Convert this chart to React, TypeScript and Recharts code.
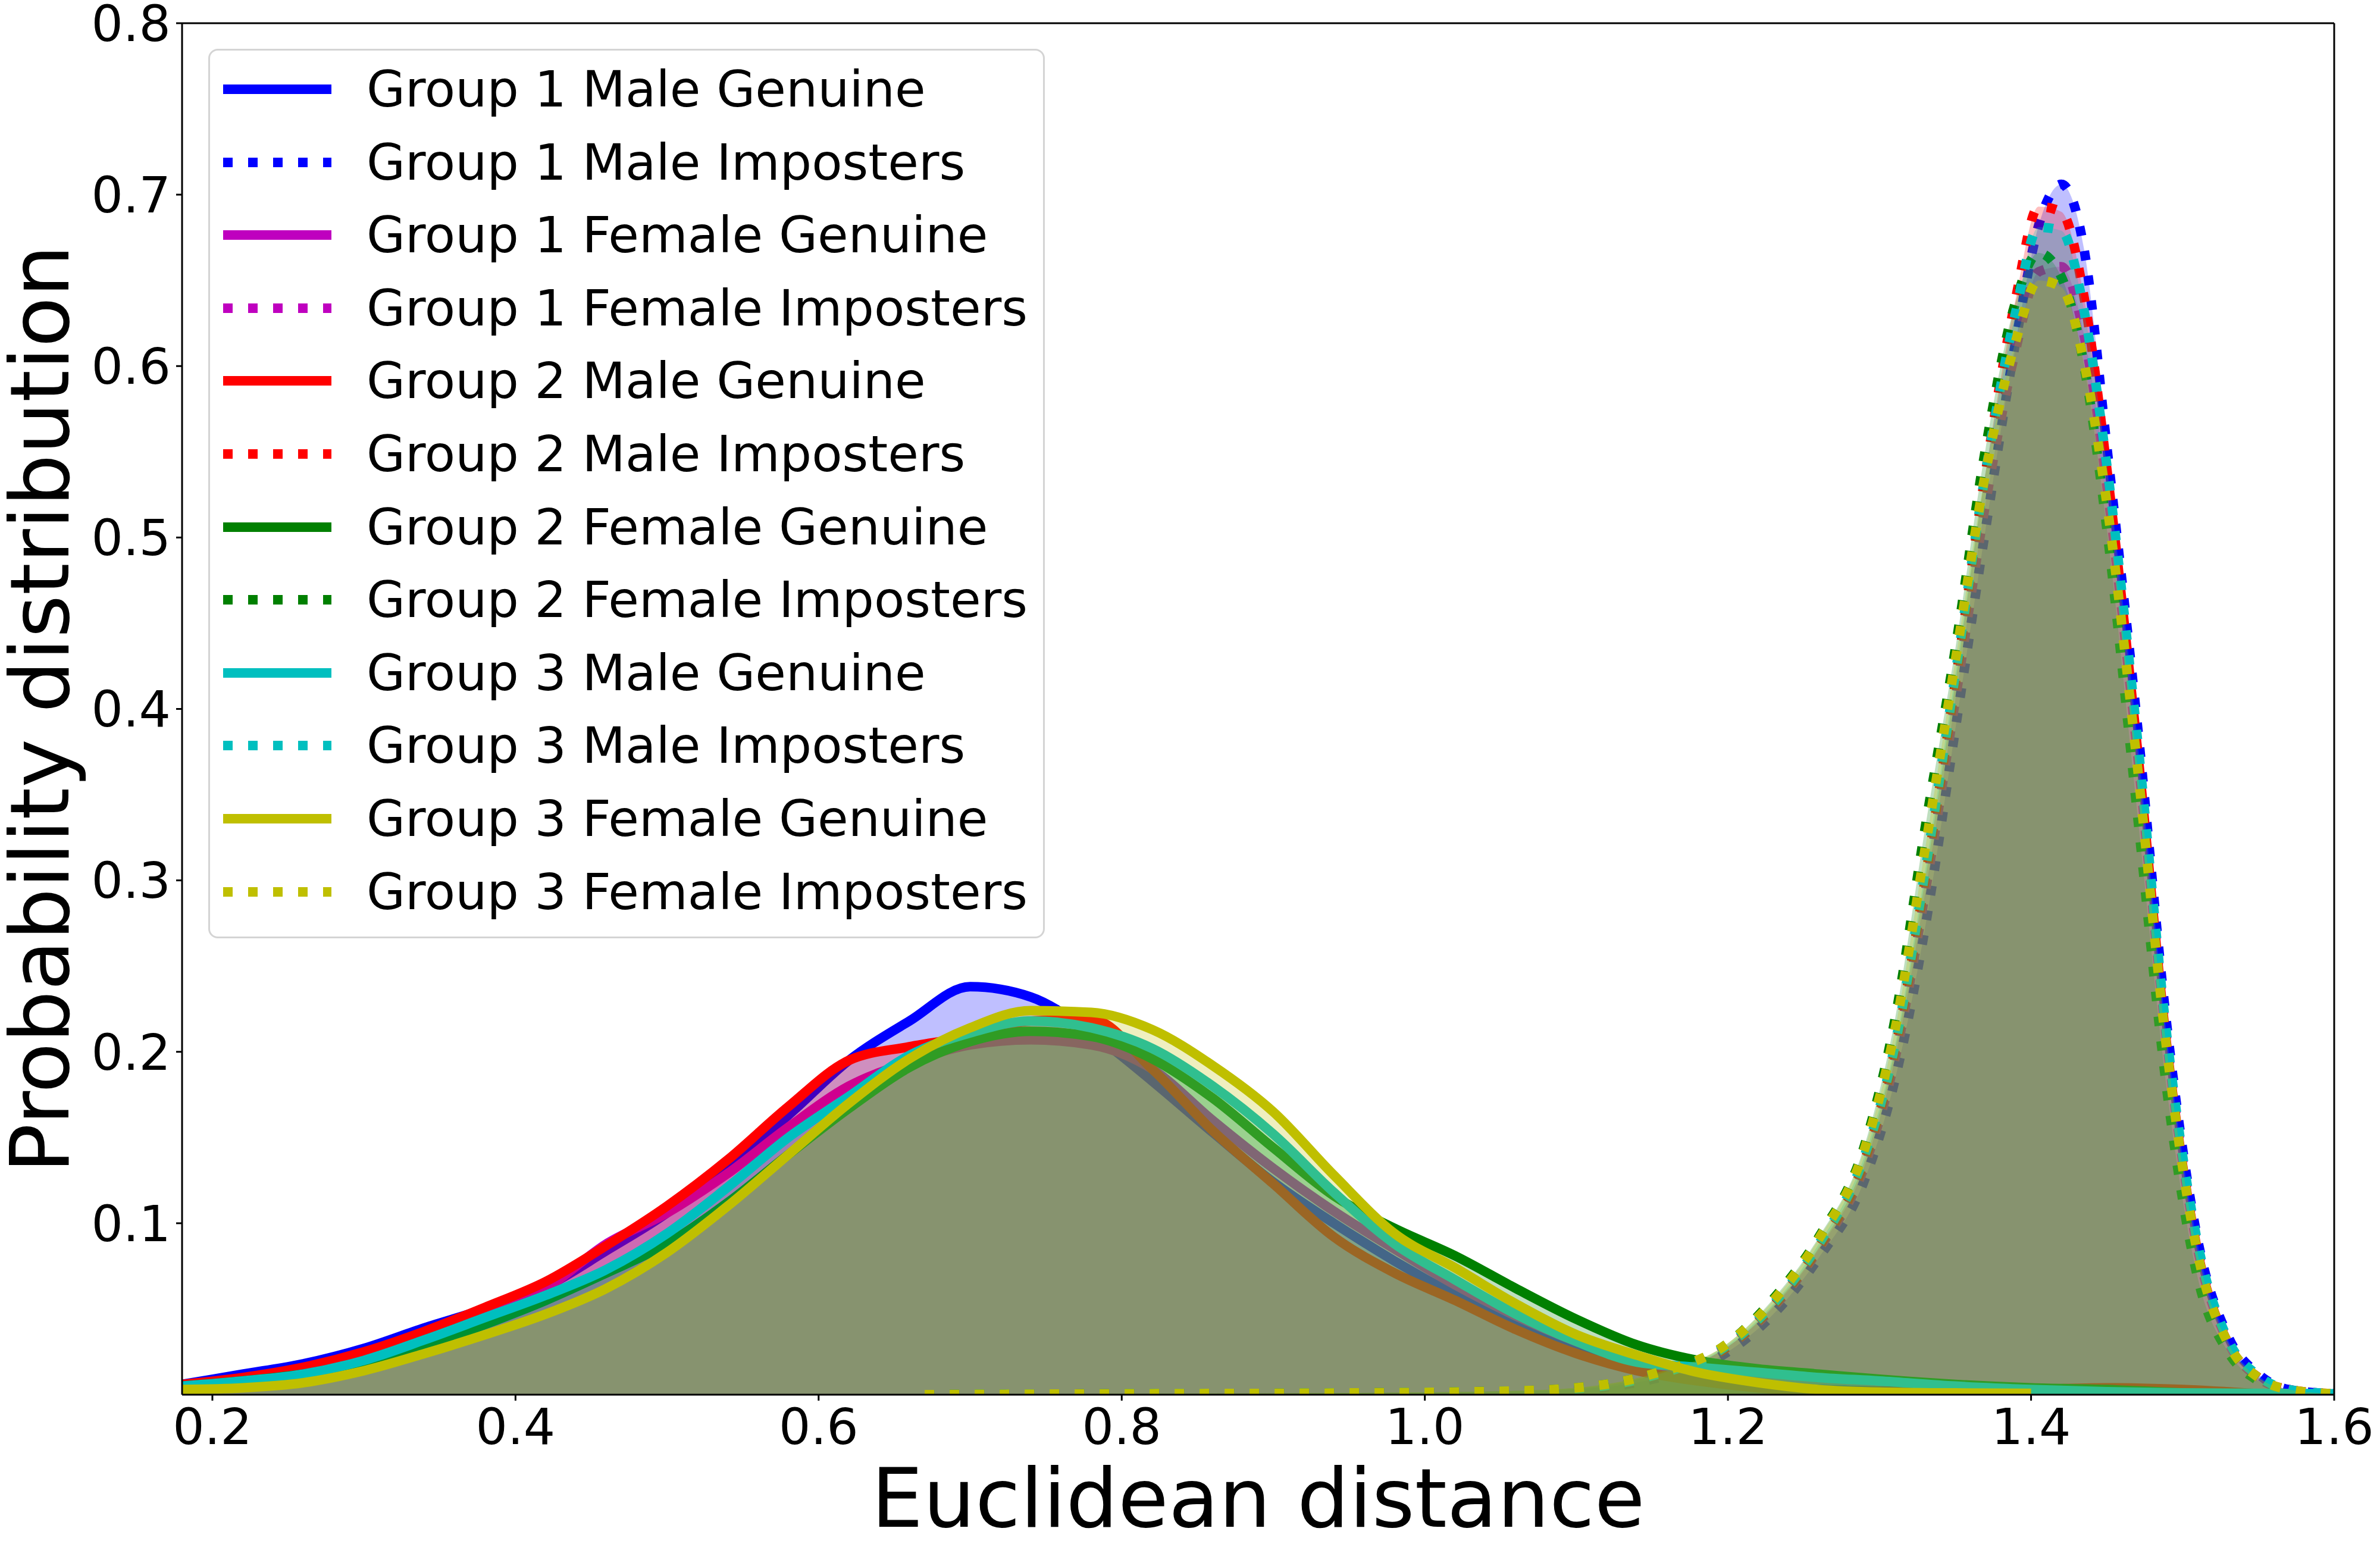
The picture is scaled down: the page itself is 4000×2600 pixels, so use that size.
import React from 'react';
import { ComposedChart, Area, XAxis, YAxis, Legend, Label, ReferenceLine } from 'recharts';

// ---------- data ----------
const genuineX = [0.18, 0.22, 0.26, 0.30, 0.34, 0.38, 0.42, 0.46, 0.50, 0.54, 0.58, 0.62, 0.66, 0.70, 0.74, 0.78, 0.82, 0.86, 0.90, 0.94, 0.98, 1.02, 1.06, 1.10, 1.14, 1.18, 1.22, 1.26, 1.30, 1.35, 1.40, 1.45, 1.50, 1.55, 1.60];
const imposterX = [0.67, 0.8, 0.95, 1.05, 1.1, 1.15, 1.2, 1.23, 1.26, 1.29, 1.31, 1.33, 1.35, 1.37, 1.39, 1.405, 1.42, 1.435, 1.45, 1.47, 1.49, 1.51, 1.53, 1.55, 1.57, 1.6];

const g1MaleGenuine = [0.006, 0.012, 0.018, 0.027, 0.039, 0.050, 0.063, 0.084, 0.106, 0.134, 0.163, 0.195, 0.218, 0.238, 0.232, 0.211, 0.183, 0.153, 0.124, 0.100, 0.078, 0.058, 0.040, 0.026, 0.016, 0.009, 0.005, 0.003, 0.002, 0.001, 0.0005, null, null, null, null];
const g1FemaleGenuine = [0.005, 0.009, 0.014, 0.022, 0.033, 0.046, 0.062, 0.088, 0.106, 0.129, 0.156, 0.180, 0.194, 0.204, 0.207, 0.204, 0.190, 0.160, 0.132, 0.107, 0.085, 0.064, 0.046, 0.031, 0.019, 0.011, 0.006, 0.003, 0.001, null, null, null, null, null, null];
const g2MaleGenuine = [0.006, 0.010, 0.016, 0.025, 0.037, 0.051, 0.066, 0.087, 0.110, 0.137, 0.168, 0.195, 0.203, 0.209, 0.218, 0.219, 0.190, 0.154, 0.123, 0.092, 0.071, 0.055, 0.038, 0.024, 0.014, 0.008, 0.004, 0.002, 0.002, 0.002, 0.003, 0.004, 0.003, 0.0005, null];
const g2FemaleGenuine = [0.005, 0.008, 0.012, 0.018, 0.028, 0.041, 0.055, 0.071, 0.088, 0.112, 0.140, 0.167, 0.191, 0.206, 0.212, 0.209, 0.196, 0.173, 0.144, 0.116, 0.097, 0.081, 0.062, 0.044, 0.029, 0.020, 0.015, 0.012, 0.009, 0.006, 0.004, 0.003, 0.001, null, null];
const g3MaleGenuine = [0.005, 0.008, 0.012, 0.020, 0.032, 0.045, 0.058, 0.073, 0.094, 0.121, 0.150, 0.174, 0.198, 0.211, 0.218, 0.214, 0.202, 0.180, 0.152, 0.118, 0.088, 0.067, 0.047, 0.031, 0.019, 0.016, 0.013, 0.010, 0.008, 0.005, 0.003, 0.0017, 0.001, 0.0008, 0.0005];
const g3FemaleGenuine = [0.003, 0.004, 0.007, 0.014, 0.024, 0.035, 0.047, 0.062, 0.083, 0.110, 0.140, 0.170, 0.196, 0.214, 0.224, 0.223, 0.213, 0.192, 0.165, 0.128, 0.094, 0.074, 0.053, 0.035, 0.023, 0.013, 0.007, 0.003, 0.0015, 0.001, 0.0008, null, null, null, null];

const g1MaleImposters = [0, 0.0004, 0.0008, 0.0015, 0.003, 0.009, 0.025, 0.047, 0.080, 0.125, 0.183, 0.272, 0.388, 0.505, 0.615, 0.682, 0.706, 0.668, 0.553, 0.392, 0.212, 0.090, 0.034, 0.012, 0.003, 0.0005];
const g1FemaleImposters = [0, 0.0005, 0.001, 0.002, 0.0035, 0.011, 0.028, 0.051, 0.085, 0.133, 0.195, 0.292, 0.405, 0.520, 0.610, 0.655, 0.658, 0.618, 0.530, 0.376, 0.203, 0.085, 0.031, 0.010, 0.003, 0.0005];
const g2MaleImposters = [0, 0.0005, 0.001, 0.002, 0.0035, 0.011, 0.028, 0.052, 0.086, 0.136, 0.200, 0.300, 0.415, 0.538, 0.640, 0.693, 0.690, 0.640, 0.540, 0.378, 0.200, 0.083, 0.030, 0.010, 0.003, 0.0005];
const g2FemaleImposters = [0, 0.0005, 0.001, 0.002, 0.004, 0.012, 0.030, 0.056, 0.092, 0.145, 0.218, 0.330, 0.435, 0.552, 0.638, 0.666, 0.652, 0.600, 0.505, 0.340, 0.175, 0.068, 0.025, 0.008, 0.002, 0.0004];
const g3MaleImposters = [0, 0.0005, 0.001, 0.002, 0.0035, 0.011, 0.029, 0.053, 0.088, 0.139, 0.203, 0.305, 0.420, 0.538, 0.632, 0.681, 0.679, 0.632, 0.542, 0.384, 0.206, 0.088, 0.032, 0.011, 0.003, 0.0005];
const g3FemaleImposters = [0, 0.0005, 0.001, 0.002, 0.004, 0.012, 0.030, 0.055, 0.091, 0.143, 0.212, 0.318, 0.428, 0.538, 0.615, 0.650, 0.646, 0.602, 0.520, 0.368, 0.198, 0.082, 0.030, 0.010, 0.003, 0.0005];

const xTicks = [0.2, 0.4, 0.6, 0.8, 1.0, 1.2, 1.4, 1.6];
const yTicks = [0.1, 0.2, 0.3, 0.4, 0.5, 0.6, 0.7, 0.8];
const xTitle = 'Euclidean distance';
const yTitle = 'Probability distribution';

type SeriesDef = { key: string; name: string; color: string; dotted: boolean; xs: number[]; ys: (number | null)[] };

const seriesDefs: SeriesDef[] = [
  { key: 'g1mg', name: 'Group 1 Male Genuine', color: '#0000ff', dotted: false, xs: genuineX, ys: g1MaleGenuine },
  { key: 'g1mi', name: 'Group 1 Male Imposters', color: '#0000ff', dotted: true, xs: imposterX, ys: g1MaleImposters },
  { key: 'g1fg', name: 'Group 1 Female Genuine', color: '#bf00bf', dotted: false, xs: genuineX, ys: g1FemaleGenuine },
  { key: 'g1fi', name: 'Group 1 Female Imposters', color: '#bf00bf', dotted: true, xs: imposterX, ys: g1FemaleImposters },
  { key: 'g2mg', name: 'Group 2 Male Genuine', color: '#ff0000', dotted: false, xs: genuineX, ys: g2MaleGenuine },
  { key: 'g2mi', name: 'Group 2 Male Imposters', color: '#ff0000', dotted: true, xs: imposterX, ys: g2MaleImposters },
  { key: 'g2fg', name: 'Group 2 Female Genuine', color: '#008000', dotted: false, xs: genuineX, ys: g2FemaleGenuine },
  { key: 'g2fi', name: 'Group 2 Female Imposters', color: '#008000', dotted: true, xs: imposterX, ys: g2FemaleImposters },
  { key: 'g3mg', name: 'Group 3 Male Genuine', color: '#00bfbf', dotted: false, xs: genuineX, ys: g3MaleGenuine },
  { key: 'g3mi', name: 'Group 3 Male Imposters', color: '#00bfbf', dotted: true, xs: imposterX, ys: g3MaleImposters },
  { key: 'g3fg', name: 'Group 3 Female Genuine', color: '#bfbf00', dotted: false, xs: genuineX, ys: g3FemaleGenuine },
  { key: 'g3fi', name: 'Group 3 Female Imposters', color: '#bfbf00', dotted: true, xs: imposterX, ys: g3FemaleImposters },
];

function buildTable() {
  const rows = new Map<number, Record<string, number>>();
  for (const s of seriesDefs) {
    s.xs.forEach((x, i) => {
      const y = s.ys[i];
      if (y === null || y === undefined) return;
      const row = rows.get(x) ?? { x };
      row[s.key] = y;
      rows.set(x, row);
    });
  }
  return Array.from(rows.values()).sort((a, b) => a.x - b.x);
}

const tableData = buildTable();

// ---------- styling ----------
const FONT = 'DejaVu Sans';
const LW = 16;
const DOTS = '16 26';

const XTitle = (props: any) => {
  const vb = props.viewBox || {};
  return (
    <text x={vb.x + vb.width / 2} y={vb.y + 222} textAnchor="middle" fontSize={138} fontFamily={FONT} fill="#000">
      {xTitle}
    </text>
  );
};

const YTitle = (props: any) => {
  const vb = props.viewBox || {};
  const cx = vb.x + 115;
  const cy = vb.y + vb.height / 2;
  return (
    <text x={cx} y={cy} transform={`rotate(-90, ${cx}, ${cy})`} textAnchor="middle" fontSize={138} fontFamily={FONT} fill="#000">
      {yTitle}
    </text>
  );
};

const LegendBox = () => (
  <div
    style={{
      boxSizing: 'border-box',
      width: 1406,
      height: 1495,
      border: '3px solid #d4d4d4',
      borderRadius: 16,
      background: 'rgba(255,255,255,0.8)',
      position: 'relative',
      fontFamily: FONT,
      fontSize: 84,
      color: '#000',
    }}
  >
    {seriesDefs.map((s, i) => (
      <div key={s.key} style={{ position: 'absolute', left: 0, right: 0, top: 65 + i * 122.6 - 50, height: 100 }}>
        <svg width={182} height={20} style={{ position: 'absolute', left: 22, top: 40 }}>
          <line x1={0} y1={10} x2={182} y2={10} stroke={s.color} strokeWidth={LW} strokeDasharray={s.dotted ? DOTS : undefined} />
        </svg>
        <span style={{ position: 'absolute', left: 263, top: 0, lineHeight: '100px', whiteSpace: 'nowrap' }}>{s.name}</span>
      </div>
    ))}
  </div>
);

const tickStyle = { fill: '#000', fontSize: 84, fontFamily: FONT };
const lineStyle = { stroke: '#000', strokeWidth: 3 };

export default function App() {
  return (
    <div style={{ position: 'absolute', left: 0, top: 0, width: 4000, height: 2600, background: '#fff' }}>
      <ComposedChart width={4000} height={2600} data={tableData} margin={{ top: 39, right: 77, left: 0, bottom: 0 }}>
        <XAxis
          dataKey="x"
          type="number"
          domain={[0.18, 1.6]}
          allowDataOverflow
          ticks={xTicks}
          interval={0}
          tickFormatter={(v: number) => v.toFixed(1)}
          height={256}
          tick={tickStyle}
          tickLine={lineStyle}
          axisLine={lineStyle}
          tickSize={10}
          tickMargin={13}
        >
          <Label content={XTitle} />
        </XAxis>
        <YAxis
          type="number"
          domain={[0, 0.8]}
          allowDataOverflow
          ticks={yTicks}
          interval={0}
          tickFormatter={(v: number) => v.toFixed(1)}
          width={306}
          tick={tickStyle}
          tickLine={lineStyle}
          axisLine={lineStyle}
          tickSize={10}
          tickMargin={9}
        >
          <Label content={YTitle} />
        </YAxis>
        {seriesDefs.map((s) => (
          <Area
            key={s.key}
            dataKey={s.key}
            name={s.name}
            type="monotone"
            stroke={s.color}
            strokeWidth={LW}
            strokeDasharray={s.dotted ? DOTS : undefined}
            strokeLinejoin="round"
            strokeLinecap="butt"
            fill={s.color}
            fillOpacity={0.25}
            connectNulls
            dot={false}
            activeDot={false}
            isAnimationActive={false}
          />
        ))}
        <ReferenceLine y={0.8} stroke="#000" strokeWidth={3} ifOverflow="extendDomain" />
        <ReferenceLine x={1.6} stroke="#000" strokeWidth={3} ifOverflow="extendDomain" />
        <Legend
          layout="vertical"
          align="center"
          verticalAlign="middle"
          content={() => <LegendBox />}
          wrapperStyle={{ left: 350, top: 82, width: 1406, height: 1495 }}
        />
      </ComposedChart>
    </div>
  );
}
